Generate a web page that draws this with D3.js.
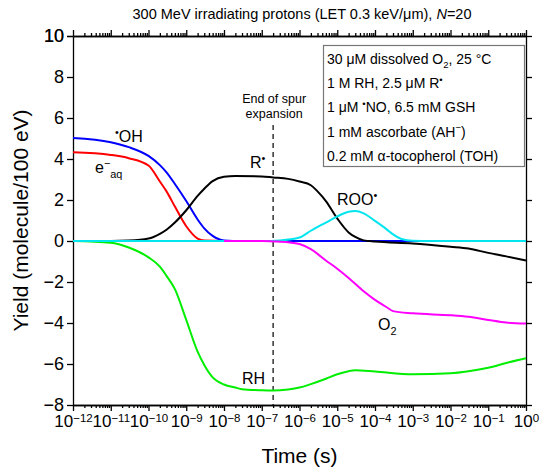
<!DOCTYPE html>
<html>
<head>
<meta charset="utf-8">
<script src="https://cdn.jsdelivr.net/npm/d3@7"></script>
<style>
  body { margin: 0; background: #fff; }
  svg { font-family: "Liberation Sans", Arial, sans-serif; }
</style>
</head>
<body>
<div id="chart"></div>
<script>
// time (s) / yield (molecule/100 eV)
const ohData = [[1e-12, 5.03], [1e-11, 4.82], [3e-11, 4.58], [1e-10, 4.15], [2e-10, 3.7], [3e-10, 3.35],
  [5e-10, 2.78], [1e-9, 1.95], [2e-9, 1.05], [3e-9, 0.62], [5e-9, 0.25], [1e-8, 0.03], [3e-8, 0], [1, 0]];
const eaqData = [[1e-12, 4.33], [1e-11, 4.2], [3e-11, 4.04], [1e-10, 3.68], [2e-10, 2.9], [3e-10, 2.42],
  [5e-10, 1.68], [1e-9, 0.72], [2e-9, 0.12], [3e-9, 0.02], [1e-8, 0], [1, 0]];
const rData = [[1e-12, 0], [1e-11, 0], [3e-11, 0.02], [1e-10, 0.12], [2e-10, 0.35], [3e-10, 0.55],
  [5e-10, 0.9], [1e-9, 1.5], [2e-9, 2.2], [3e-9, 2.55], [5e-9, 2.92], [1e-8, 3.13], [2e-8, 3.17],
  [1e-7, 3.15], [2e-7, 3.1], [5e-7, 3.03], [1e-6, 2.9], [2e-6, 2.72], [3e-6, 2.42], [5e-6, 1.95],
  [1e-5, 1.1], [2e-5, 0.42], [3e-5, 0.2], [5e-5, 0.03], [1e-4, -0.03], [1e-3, -0.12], [1e-2, -0.28],
  [3e-2, -0.37], [1e-1, -0.58], [3e-1, -0.75], [1, -0.95]];
const rooData = [[1e-12, 0], [1e-7, 0], [3e-7, 0.03], [1e-6, 0.17], [2e-6, 0.5], [5e-6, 0.9], [1e-5, 1.2],
  [2e-5, 1.43], [3e-5, 1.46], [5e-5, 1.35], [1e-4, 0.98], [2e-4, 0.58], [3e-4, 0.32], [5e-4, 0.1],
  [1e-3, 0.01], [3e-3, 0], [1, 0]];
const o2Data = [[1e-8, 0], [1e-7, 0], [2e-7, -0.02], [5e-7, -0.06], [1e-6, -0.15], [2e-6, -0.4],
  [5e-6, -0.95], [1e-5, -1.35], [2e-5, -1.8], [5e-5, -2.45], [1e-4, -2.87], [2e-4, -3.22],
  [3e-4, -3.42], [1e-3, -3.53], [1e-2, -3.62], [3e-2, -3.7], [1e-1, -3.85], [3e-1, -3.98], [1, -4.03]];
const rhData = [[1e-12, 0], [1e-11, -0.09], [3e-11, -0.32], [1e-10, -0.8], [2e-10, -1.25], [3e-10, -1.7],
  [5e-10, -2.35], [1e-9, -3.85], [2e-9, -5.4], [3e-9, -6.05], [5e-9, -6.65], [1e-8, -7.0], [2e-8, -7.15],
  [3e-8, -7.23], [1e-7, -7.28], [2e-7, -7.29], [5e-7, -7.24], [1e-6, -7.15], [2e-6, -6.98], [5e-6, -6.72],
  [1e-5, -6.5], [2e-5, -6.35], [3e-5, -6.31], [1e-4, -6.37], [1e-3, -6.5], [1e-2, -6.45], [3e-2, -6.35],
  [1e-1, -6.18], [3e-1, -5.95], [1, -5.72]];

const spurEnd = 2e-7;
const xDecades = d3.range(-12, 1);
const yTicks = [-8, -6, -4, -2, 0, 2, 4, 6, 8, 10];

const conditions = [
  ['30 \u03bcM dissolved O', ['2', 'sub'], ', 25 \u00b0C'],
  ['1 M RH, 2.5 \u03bcM R', ['\u2022', 'sup']],
  ['1 \u03bcM ', ['\u2022', 'sup'], 'NO, 6.5 mM GSH'],
  ['1 mM ascorbate (AH', ['\u2212', 'sup'], ')'],
  ['0.2 mM \u03b1-tocopherol (TOH)']
];

const width = 550, height = 476;
const margin = { top: 36, right: 24, bottom: 71, left: 73 };
const plotW = width - margin.left - margin.right;
const plotH = height - margin.top - margin.bottom;

const svg = d3.select('#chart').append('svg')
  .attr('width', width)
  .attr('height', height);

const g = svg.append('g')
  .attr('transform', `translate(${margin.left},${margin.top})`);

const x = d3.scaleLog().domain([1e-12, 1]).range([0, plotW]);
const y = d3.scaleLinear().domain([-8, 10]).range([plotH, 0]);

// rich text helper: parts are strings or [text, 'sup'|'sub'|'i']
function rich(sel, parts, size) {
  let shift = 0;
  parts.forEach(p => {
    const [str, kind] = typeof p === 'string' ? [p, ''] : p;
    const target = kind === 'sup' ? -0.38 * size : kind === 'sub' ? 0.3 * size : 0;
    const ts = sel.append('tspan').attr('dy', target - shift).text(str);
    if (kind === 'sup' || kind === 'sub') ts.style('font-size', (size * 0.68) + 'px');
    if (kind === 'i') ts.style('font-style', 'italic');
    shift = target;
  });
}

const minorTicks = [];
xDecades.slice(0, -1).forEach(e => {
  for (let k = 2; k <= 9; k++) minorTicks.push(k * Math.pow(10, e));
});
const majorTicks = xDecades.map(e => Math.pow(10, e));

// Bottom axis
const xAxisG = g.append('g')
  .attr('transform', `translate(0,${plotH})`)
  .call(d3.axisBottom(x).tickValues(majorTicks).tickSize(6).tickSizeOuter(0).tickPadding(4));
g.append('g')
  .attr('transform', `translate(0,${plotH})`)
  .call(d3.axisBottom(x).tickValues(minorTicks).tickSize(3).tickSizeOuter(0).tickFormat(''));

xAxisG.selectAll('.tick text').each(function(d) {
  const e = Math.round(Math.log10(d));
  const t = d3.select(this).text(null).style('font-size', '17px');
  t.append('tspan').text('10');
  t.append('tspan').attr('dy', '-0.45em').style('font-size', '11.5px')
    .text(e < 0 ? '\u2212' + (-e) : String(e));
});

// Top axis
g.append('g')
  .call(d3.axisTop(x).tickValues(majorTicks).tickSize(6).tickSizeOuter(0).tickFormat(''));
g.append('g')
  .call(d3.axisTop(x).tickValues(minorTicks).tickSize(3).tickSizeOuter(0).tickFormat(''));

// Left and right axes
g.append('g')
  .call(d3.axisLeft(y).tickValues(yTicks.concat([10])).tickSize(6).tickSizeOuter(0).tickPadding(3))
  .selectAll('.tick text')
  .style('font-size', '18px')
  .text(d => d < 0 ? '\u2212' + (-d) : d);
g.append('g')
  .attr('transform', `translate(${plotW},0)`)
  .call(d3.axisRight(y).tickValues(yTicks).tickSize(6).tickSizeOuter(0).tickFormat(''));

g.selectAll('.domain, .tick line').attr('stroke', '#000').attr('stroke-width', 1.3);
g.selectAll('.tick text').attr('fill', '#000');

// End of spur expansion marker
g.append('line')
  .attr('x1', x(spurEnd)).attr('x2', x(spurEnd))
  .attr('y1', 89).attr('y2', plotH)
  .attr('stroke', '#000')
  .attr('stroke-width', 1.2)
  .attr('stroke-dasharray', '5,4');

g.append('text')
  .attr('x', x(spurEnd) + 1).attr('y', 67)
  .attr('text-anchor', 'middle')
  .style('font-size', '12.5px')
  .text('End of spur');
g.append('text')
  .attr('x', x(spurEnd) + 1).attr('y', 82)
  .attr('text-anchor', 'middle')
  .style('font-size', '12.5px')
  .text('expansion');

// Curves
const line = d3.line()
  .x(d => x(d[0]))
  .y(d => y(d[1]))
  .curve(d3.curveMonotoneX);

const series = [
  { data: rhData, color: '#00ee00' },
  { data: eaqData, color: '#ff0000' },
  { data: ohData, color: '#0000ff' },
  { data: rData, color: '#000000' },
  { data: rooData, color: '#00e5ee' },
  { data: o2Data, color: '#ff00ff' }
];

g.selectAll('.curve')
  .data(series)
  .enter()
  .append('path')
  .attr('class', 'curve')
  .attr('d', d => line(d.data))
  .attr('fill', 'none')
  .attr('stroke', d => d.color)
  .attr('stroke-width', 2);

// Curve labels (positions in svg coords)
const labelSize = 16;
function label(px, py, parts) {
  const t = svg.append('text')
    .attr('x', px).attr('y', py)
    .style('font-size', labelSize + 'px');
  rich(t, parts, labelSize);
}
label(115, 142, [['\u2022', 'sup'], 'OH']);
label(95, 173, ['e', ['\u2212', 'sup'], ['aq', 'sub']]);
label(250, 168, ['R', ['\u2022', 'sup']]);
label(337, 205, ['ROO', ['\u2022', 'sup']]);
label(378, 330, ['O', ['2', 'sub']]);
label(242, 384, ['RH']);

// Conditions box
svg.append('rect')
  .attr('x', 323.5).attr('y', 45.5)
  .attr('width', 201).attr('height', 121)
  .attr('fill', '#fff')
  .attr('stroke', '#777')
  .attr('stroke-width', 1.2);

conditions.forEach((parts, i) => {
  const t = svg.append('text')
    .attr('x', 327).attr('y', 64 + i * 24.2)
    .style('font-size', '14px');
  rich(t, parts, 14);
});

// Title and axis labels
const title = svg.append('text')
  .attr('x', 302).attr('y', 19)
  .attr('text-anchor', 'middle')
  .style('font-size', '14.5px');
rich(title, ['300 MeV irradiating protons (LET 0.3 keV/\u03bcm), ', ['N', 'i'], '=20'], 14.5);

svg.append('text')
  .attr('x', margin.left + plotW / 2).attr('y', 463)
  .attr('text-anchor', 'middle')
  .style('font-size', '21px')
  .text('Time (s)');

svg.append('text')
  .attr('transform', `translate(28,${margin.top + plotH / 2}) rotate(-90)`)
  .attr('text-anchor', 'middle')
  .style('font-size', '21px')
  .text('Yield (molecule/100 eV)');
</script>
</body>
</html>
